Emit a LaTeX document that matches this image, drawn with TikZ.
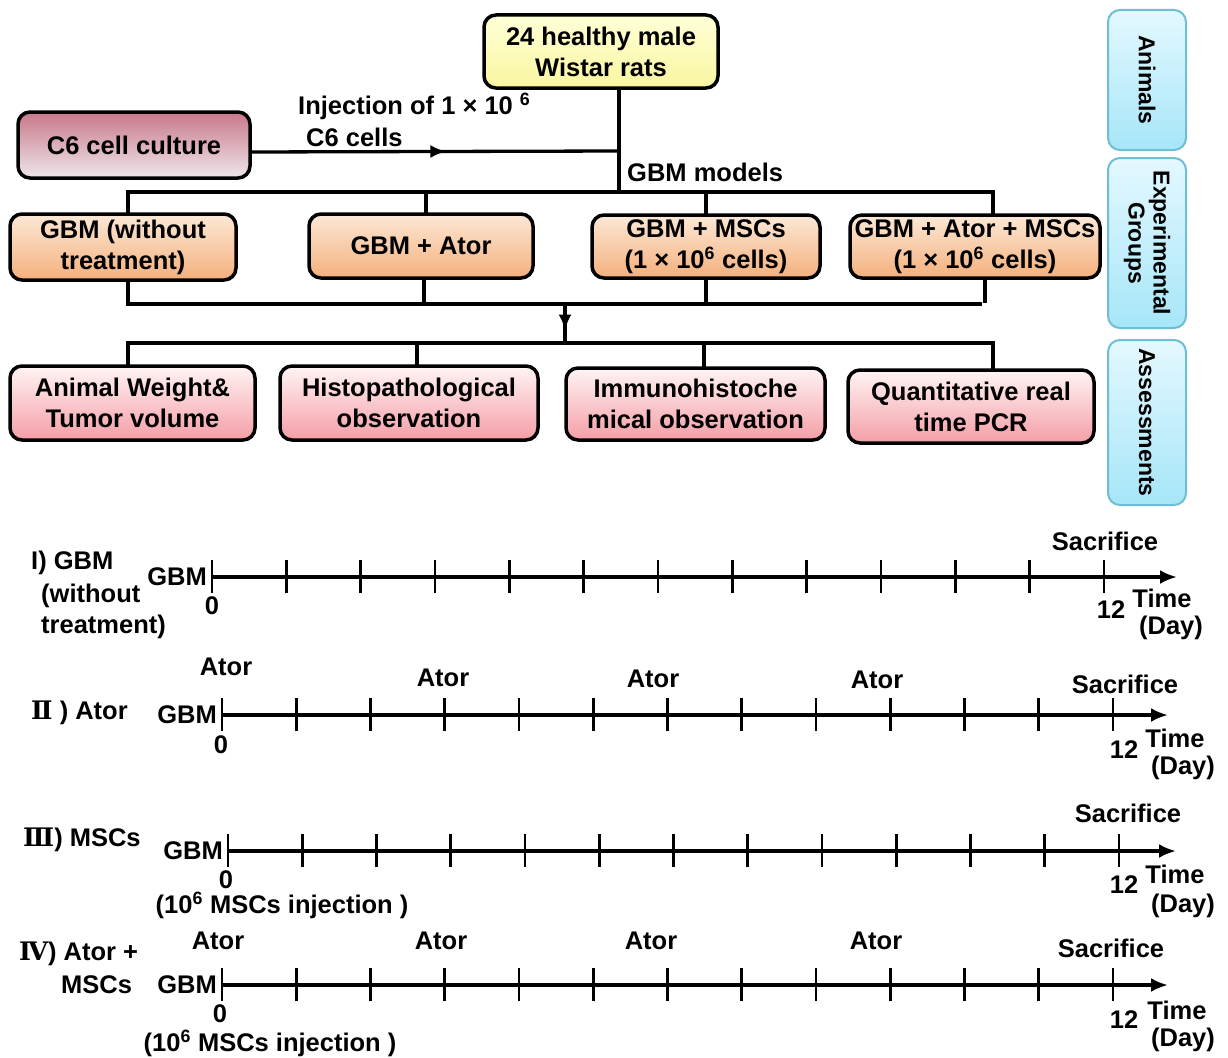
\documentclass[tikz,border=0pt]{standalone}
\usepackage{fontspec}
\setmainfont{Liberation Sans}
\newfontfamily\romfont{DejaVu Serif}
\usetikzlibrary{arrows.meta,calc,decorations.markings}
\definecolor{yelT}{RGB}{255,255,215}
\definecolor{yelB}{RGB}{250,246,160}
\definecolor{c6T}{RGB}{200,120,138}
\definecolor{c6B}{RGB}{238,230,234}
\definecolor{orT}{RGB}{252,232,214}
\definecolor{orB}{RGB}{244,176,124}
\definecolor{pkT}{RGB}{255,244,244}
\definecolor{pkB}{RGB}{244,158,166}
\definecolor{cyT}{RGB}{228,248,255}
\definecolor{cyB}{RGB}{166,230,248}
\definecolor{cyD}{RGB}{110,190,214}
\begin{document}
\begin{tikzpicture}[x=1pt,y=-1pt,
  every node/.style={font=\fontsize{25.5}{31}\selectfont\bfseries, inner sep=2pt},
  box/.style={draw=black, line width=3.5pt, rounded corners=12pt, align=center, inner sep=0pt},
  ybox/.style={box, top color=yelT, bottom color=yelB},
  cbox/.style={box, top color=c6T, bottom color=c6B},
  obox/.style={box, top color=orT, bottom color=orB},
  pbox/.style={box, top color=pkT, bottom color=pkB},
  sbox/.style={draw=cyD, line width=2pt, rounded corners=12pt, align=center, inner sep=0pt,
     top color=cyT, bottom color=cyB, rotate=-90, font=\fontsize{23}{25}\selectfont\bfseries},
  conn/.style={line width=3.3pt, line cap=rect},
  midarrow/.style={postaction={decorate}, decoration={markings,
     mark=at position #1 with {\arrow{Latex[length=16pt,width=13pt]}}}},
  axisline/.style={line width=3.6pt, -{Latex[length=17pt,width=14pt]}},
  tickline/.style={line width=2.8pt},
  lbl/.style={inner sep=1pt},
]
\fill[white] (0,0) rectangle (1228,1057);
\useasboundingbox (0,0) rectangle (1228,1057);

% ---------- flowchart ----------
\node[ybox, minimum width=234pt, minimum height=73pt] (top) at (601,51.5) {24 healthy male\\Wistar rats};
\node[cbox, minimum width=232pt, minimum height=66pt] (c6) at (134,145) {C6 cell culture};

\node[obox, minimum width=226pt, minimum height=66pt] (g1) at (123,247) {GBM (without\\treatment)};
\node[obox, minimum width=224pt, minimum height=64pt] (g2) at (421,246) {GBM + Ator};
\node[obox, minimum width=228pt, minimum height=63pt] (g3) at (706,246.5) {GBM + MSCs\\(1 × 10\textsuperscript{6} cells)};
\node[obox, minimum width=250pt, minimum height=63pt] (g4) at (975,246.5) {GBM + Ator + MSCs\\(1 × 10\textsuperscript{6} cells)};

\node[pbox, minimum width=245pt, minimum height=74pt] (a1) at (132.5,403) {Animal Weight\&\\Tumor volume};
\node[pbox, minimum width=258pt, minimum height=74pt] (a2) at (409,403) {Histopathological\\observation};
\node[pbox, minimum width=259pt, minimum height=72pt] (a3) at (695.5,404) {Immunohistoche\\mical observation};
\node[pbox, minimum width=246pt, minimum height=73pt] (a4) at (971,406.5) {Quantitative real\\time PCR};

\node[sbox, minimum width=140pt, minimum height=78pt] (s1) at (1147,80) {Animals};
\node[sbox, minimum width=170pt, minimum height=78pt] (s2) at (1147,243) {Experimental\\Groups};
\node[sbox, minimum width=165pt, minimum height=78pt] (s3) at (1147,422.5) {Assessments};

\coordinate (j1) at (619,192);
\coordinate (c6o) at ($(c6.east)+(0,7)$);
\coordinate (j0) at (619,151);
\draw[conn] (top.south -| j1) -- (j1);
\draw[conn, midarrow=0.53] (c6o) -- (j0);
\node[lbl, anchor=west] (inj1) at (297,106) {Injection of 1 × 10 \textsuperscript{6}};
\node[lbl, anchor=west] (inj2) at (305,137) {C6 cells};
\node[lbl, anchor=west] (gbmm) at (626,172) {GBM models};

\coordinate (b1) at (128,192);
\coordinate (b2) at (993,192);
\draw[conn] (b1) -- (b2);
\draw[conn] (b1) -- (b1 |- g1.north);
\draw[conn] (g2.north -| 426,0) -- (426,192);
\draw[conn] (g3.north) -- (g3.north |- b1);
\draw[conn] (b2) -- (b2 |- g4.north);

\coordinate (c1) at (128,304);
\coordinate (c2) at (980,304);
\coordinate (c3) at (985,301);
\draw[conn] (c1) -- (c2);
\draw[conn] (g1.south -| c1) -- (c1);
\draw[conn] (g2.south -| 424,0) -- (424,304);
\draw[conn] (g3.south) -- (g3.south |- c1);
\draw[conn] (g4.south -| c3) -- (c3);

\coordinate (m1) at (565,304);
\coordinate (m2) at (565,343);
\draw[conn, midarrow=0.68] (m1) -- (m2);

\coordinate (d1) at (128,343);
\coordinate (d2) at (993,343);
\draw[conn] (d1) -- (d2);
\draw[conn] (d1) -- (d1 |- a1.north);
\draw[conn] (417,343) -- (a2.north -| 417,0);
\draw[conn] (704,343) -- (a3.north -| 704,0);
\draw[conn] (d2) -- (d2 |- a4.north);

% ---------- timeline I ----------
\coordinate (t1s) at (212,577);
\coordinate (t1e) at (1177,577);
\draw[axisline] (t1s) -- (t1e);
\foreach \i in {0,...,12} \draw[tickline] ($(t1s)+(\i*74.33,-17)$) -- ++(0,33);
\node[lbl, anchor=west] (l1a) at (30,563) {I) GBM};
\node[lbl, anchor=west] (l1b) at (40,596) {(without};
\node[lbl, anchor=west] (l1c) at (40,627) {treatment)};
\node[lbl, anchor=east] (g1l) at ($(t1s)+(-4,0)$) {GBM};
\node[lbl] (z1) at (212,606) {0};
\node[lbl] (s1l) at (1105,541) {Sacrifice};
\node[lbl] (n1) at (1111,610) {12};
\node[lbl] (tm1) at (1162,598) {Time};
\node[lbl] (dy1) at (1171,628) {(Day)};

% ---------- timeline II ----------
\coordinate (t2s) at (222,715);
\coordinate (t2e) at (1168,715);
\draw[axisline] (t2s) -- (t2e);
\foreach \i in {0,...,12} \draw[tickline] ($(t2s)+(\i*74.25,-17)$) -- ++(0,33);
\node[lbl, anchor=west] (l2) at (30,713) {{\romfont Ⅱ} ) Ator};
\node[lbl, anchor=east] (g2l) at ($(t2s)+(-4,0)$) {GBM};
\node[lbl] (z2) at (221,745) {0};
\node[lbl] (at21) at (226,667) {Ator};
\node[lbl] (at22) at (443,678) {Ator};
\node[lbl] (at23) at (653,679) {Ator};
\node[lbl] (at24) at (877,680) {Ator};
\node[lbl] (s2l) at (1125,684) {Sacrifice};
\node[lbl] (n2) at (1124,750) {12};
\node[lbl] (tm2) at (1175,738) {Time};
\node[lbl] (dy2) at (1183,768) {(Day)};

% ---------- timeline III ----------
\coordinate (t3s) at (228,851);
\coordinate (t3e) at (1176,851);
\draw[axisline] (t3s) -- (t3e);
\foreach \i in {0,...,12} \draw[tickline] ($(t3s)+(\i*74.25,-17)$) -- ++(0,33);
\node[lbl, anchor=west] (l3) at (22,840) {{\romfont Ⅲ}) MSCs};
\node[lbl, anchor=east] (g3l) at ($(t3s)+(-4,0)$) {GBM};
\node[lbl] (z3) at (226,880) {0};
\node[lbl] (inj3) at (282,905) {(10\textsuperscript{6} MSCs injection )};
\node[lbl] (s3l) at (1128,813) {Sacrifice};
\node[lbl] (n3) at (1124,885) {12};
\node[lbl] (tm3) at (1175,874) {Time};
\node[lbl] (dy3) at (1183,906) {(Day)};

% ---------- timeline IV ----------
\coordinate (t4s) at (222,985);
\coordinate (t4e) at (1168,985);
\draw[axisline] (t4s) -- (t4e);
\foreach \i in {0,...,12} \draw[tickline] ($(t4s)+(\i*74.25,-17)$) -- ++(0,33);
\node[lbl, anchor=west] (l4a) at (18,954) {{\romfont Ⅳ}) Ator +};
\node[lbl, anchor=west] (l4b) at (60,985) {MSCs};
\node[lbl, anchor=east] (g4l) at ($(t4s)+(-4,0)$) {GBM};
\node[lbl] (z4) at (220,1014) {0};
\node[lbl] (inj4) at (270,1043) {(10\textsuperscript{6} MSCs injection )};
\node[lbl] (at41) at (218,941) {Ator};
\node[lbl] (at42) at (441,941) {Ator};
\node[lbl] (at43) at (651,941) {Ator};
\node[lbl] (at44) at (876,941) {Ator};
\node[lbl] (s4l) at (1111,948) {Sacrifice};
\node[lbl] (n4) at (1124,1020) {12};
\node[lbl] (tm4) at (1177,1010) {Time};
\node[lbl] (dy4) at (1183,1040) {(Day)};
\end{tikzpicture}
\end{document}
